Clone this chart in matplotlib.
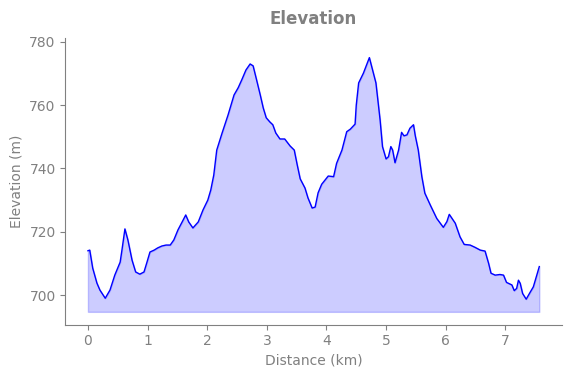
import numpy as np
import matplotlib.pyplot as plt

# distance (km) and elevation (m)
distance = [0.00, 0.03, 0.08, 0.15, 0.20, 0.29, 0.37, 0.45, 0.54, 0.57, 0.62, 0.67,
            0.74, 0.80, 0.87, 0.94, 0.99, 1.04, 1.11, 1.17, 1.24, 1.31, 1.38, 1.44,
            1.51, 1.58, 1.64, 1.69, 1.76, 1.85, 1.93, 2.01, 2.06, 2.11, 2.16, 2.25,
            2.35, 2.45, 2.52, 2.58, 2.65, 2.72, 2.77, 2.82, 2.89, 2.94, 2.99, 3.05,
            3.10, 3.15, 3.22, 3.30, 3.39, 3.46, 3.51, 3.56, 3.64, 3.69, 3.76, 3.81,
            3.86, 3.92, 4.03, 4.12, 4.17, 4.26, 4.34, 4.40, 4.48, 4.50, 4.54, 4.62,
            4.72, 4.83, 4.90, 4.94, 5.00, 5.04, 5.08, 5.11, 5.15, 5.21, 5.26, 5.30,
            5.35, 5.40, 5.46, 5.49, 5.54, 5.60, 5.65, 5.74, 5.85, 5.96, 6.02, 6.06,
            6.16, 6.24, 6.31, 6.41, 6.49, 6.58, 6.66, 6.72, 6.76, 6.83, 6.91, 6.97,
            7.02, 7.11, 7.15, 7.19, 7.22, 7.25, 7.29, 7.35, 7.42, 7.47, 7.57]
elevation = [714.0, 714.2, 708.5, 703.8, 701.6, 699.0, 701.6, 706.3, 710.4, 714.2, 720.9, 717.4,
             711.0, 707.3, 706.6, 707.3, 710.4, 713.6, 714.2, 714.9, 715.5, 715.8, 715.8, 717.4,
             720.6, 723.1, 725.3, 723.1, 721.2, 723.1, 726.9, 730.0, 733.2, 737.9, 745.8, 751.2,
             756.9, 763.2, 765.5, 768.0, 771.1, 773.0, 772.4, 768.6, 763.2, 759.1, 756.0, 754.7,
             753.8, 751.2, 749.3, 749.3, 747.1, 745.8, 741.1, 736.7, 733.8, 730.7, 727.5, 727.8,
             732.3, 735.0, 737.6, 737.4, 741.6, 745.8, 751.6, 752.4, 754.0, 760.0, 767.0, 770.1,
             775.0, 767.0, 755.3, 746.9, 743.0, 743.7, 746.9, 745.8, 741.8, 745.8, 751.4, 750.3,
             750.6, 752.7, 753.8, 750.3, 745.8, 737.4, 732.2, 728.5, 724.2, 721.4, 723.2, 725.5,
             722.7, 718.4, 716.0, 715.8, 715.1, 714.2, 713.9, 710.0, 706.9, 706.3, 706.5, 706.3,
             704.0, 703.2, 701.4, 702.1, 704.7, 703.7, 700.5, 698.7, 701.0, 702.6, 709.0]

gray = '#808080'

fig = plt.figure(figsize=(5.71, 3.78), dpi=100)
ax = fig.add_axes([0.1145, 0.1415, 0.8695, 0.758])

ax.plot(distance, elevation, color='blue', linewidth=1)
ax.fill_between(distance, elevation, min(elevation) - 4, color='blue', alpha=0.2)

ax.set_ylim(690.7, 781.2)
ax.set_title('Elevation', color=gray, fontweight='bold', fontsize=12, pad=10)
ax.set_xlabel('Distance (km)', color=gray)
ax.set_ylabel('Elevation (m)', color=gray)

ax.spines['top'].set_visible(False)
ax.spines['right'].set_visible(False)
ax.spines['left'].set_color(gray)
ax.spines['bottom'].set_color(gray)
ax.tick_params(colors=gray)

fig.savefig('out.png', dpi=100)
